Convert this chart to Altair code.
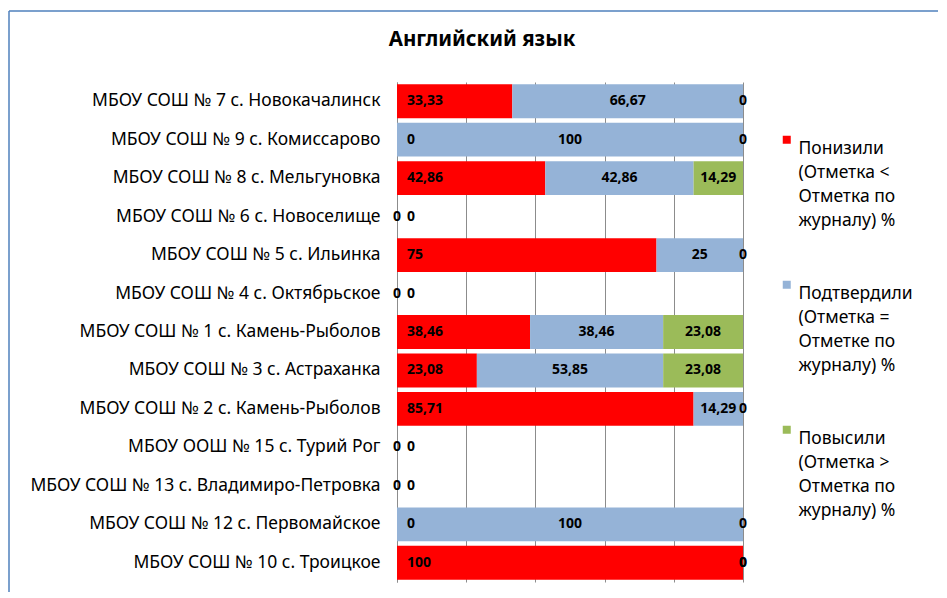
import altair as alt
import pandas as pd

schools = [
    "МБОУ СОШ № 7 с. Новокачалинск",
    "МБОУ СОШ № 9 с. Комиссарово",
    "МБОУ СОШ № 8 с. Мельгуновка",
    "МБОУ СОШ № 6 с. Новоселище",
    "МБОУ СОШ № 5 с. Ильинка",
    "МБОУ СОШ № 4 с. Октябрьское",
    "МБОУ СОШ № 1 с. Камень-Рыболов",
    "МБОУ СОШ № 3 с. Астраханка",
    "МБОУ СОШ № 2 с. Камень-Рыболов",
    "МБОУ ООШ № 15 с. Турий Рог",
    "МБОУ СОШ № 13 с. Владимиро-Петровка",
    "МБОУ СОШ № 12 с. Первомайское",
    "МБОУ СОШ № 10 с. Троицкое",
]
lowered = [33.33, 0, 42.86, 0, 75, 0, 38.46, 23.08, 85.71, 0, 0, 0, 100]
confirmed = [66.67, 100, 42.86, 0, 25, 0, 38.46, 53.85, 14.29, 0, 0, 100, 0]
raised = [0, 0, 14.29, None, 0, None, 23.08, 23.08, 0, None, None, 0, 0]

series = [
    "\u2002Понизили|(Отметка <|Отметка по|журналу) %",
    "\u2002Подтвердили|(Отметка =|Отметке по|журналу) %",
    "\u2002Повысили|(Отметка >|Отметка по|журналу) %",
]
colors = ["#FF0000", "#95B3D7", "#9BBB59"]
title = "Английский язык"

rows = []
for i, s in enumerate(schools):
    for k, vals in enumerate([lowered, confirmed, raised]):
        v = vals[i]
        if v is not None:
            rows.append({"school": s, "series": series[k], "order": k, "value": v})
df = pd.DataFrame(rows)

FONT = "Noto Sans"

base = (
    alt.Chart(df)
    .transform_stack(
        stack="value",
        groupby=["school"],
        as_=["x0", "x1"],
        sort=[alt.SortField("order", order="ascending")],
    )
    .transform_calculate(
        mid="(datum.x0 + datum.x1) / 2",
        lbl="replace(format(datum.value, '.2~f'), '.', ',')",
    )
)

yenc = alt.Y(
    "school:N",
    sort=schools,
    scale=alt.Scale(paddingInner=0.12, paddingOuter=0.06),
    axis=alt.Axis(
        title=None,
        ticks=False,
        domainColor="#8C8C8C",
        labelFontSize=17.5,
        labelFont=FONT,
        labelColor="#000000",
        labelPadding=17,
        labelLimit=400,
    ),
)
xscale = alt.Scale(domain=[0, 100], nice=False)

bars = base.mark_bar().encode(
    y=yenc,
    x=alt.X(
        "x0:Q",
        scale=xscale,
        axis=alt.Axis(
            title=None,
            values=[0, 20, 40, 60, 80, 100],
            labels=False,
            ticks=False,
            domain=False,
            grid=True,
            gridColor="#8C8C8C",
            gridWidth=1,
        ),
    ),
    x2="x1:Q",
    color=alt.Color(
        "series:N",
        scale=alt.Scale(domain=series, range=colors),
        legend=alt.Legend(
            title=None,
            orient="none",
            legendX=381,
            legendY=49,
            labelExpr="split(datum.label, '|')",
            symbolType="square",
            symbolSize=64,
            symbolStrokeWidth=0,
            labelFontSize=17.5,
            labelFont=FONT,
            labelColor="#000000",
            labelLimit=400,
            labelBaseline="top",
            labelOffset=3,
            rowPadding=46,
        ),
    ),
)

red_labels = (
    base.transform_filter("datum.order == 0")
    .mark_text(align="left", baseline="middle", dx=10, fontSize=14, fontWeight="bold", font=FONT, color="#000000")
    .encode(y=alt.Y("school:N", sort=schools), x=alt.X("x0:Q", scale=xscale), text="lbl:N")
)
other_labels = (
    base.transform_filter("datum.order > 0")
    .mark_text(align="center", baseline="middle", fontSize=14, fontWeight="bold", font=FONT, color="#000000")
    .encode(y=alt.Y("school:N", sort=schools), x=alt.X("mid:Q", scale=xscale), text="lbl:N")
)

one = pd.DataFrame({"t": [title]})
frame_v = alt.Chart(one).mark_rule(color="#4F81BD", strokeWidth=1.5).encode(
    x=alt.value(-388), y=alt.value(-71), y2=alt.value(520)
)
frame_h = alt.Chart(one).mark_rule(color="#4F81BD", strokeWidth=1.5).encode(
    x=alt.value(-388), x2=alt.value(560), y=alt.value(-71)
)
title_mark = alt.Chart(one).mark_text(
    fontSize=20.5, fontWeight="bold", font=FONT, color="#000000",
    align="center", baseline="alphabetic",
).encode(x=alt.value(85), y=alt.value(-36), text="t:N")

chart = (
    alt.layer(frame_v, frame_h, title_mark, bars, red_labels, other_labels)
    .properties(
        width=346,
        height=500,
        padding={"left": 389, "top": 74, "right": 195, "bottom": 10},
        autosize=alt.AutoSizeParams(type="none"),
    )
    .configure(style={"guide-label": {"lineHeight": 24}})
    .configure_view(stroke=None)
)

chart.save("out.html", embed_options={"renderer": "svg", "actions": False})
